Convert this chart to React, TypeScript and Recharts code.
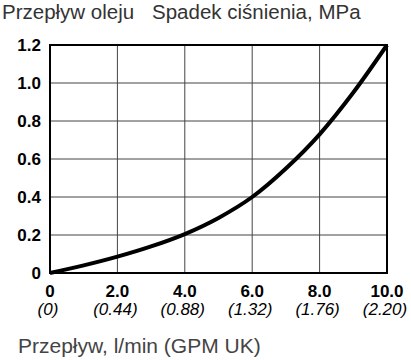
import { LineChart, Line, XAxis, YAxis, CartesianGrid, ReferenceArea } from 'recharts';

// flow in l/min and pressure drop in MPa
const flowLpm = [0, 1, 2, 3, 4, 5, 6, 7, 8, 9, 10];
const pressureMpa = [0, 0.04, 0.086, 0.14, 0.205, 0.29, 0.4, 0.55, 0.73, 0.95, 1.2];

const xTicks = [0, 2, 4, 6, 8, 10];
const xTickLabels = ['0', '2.0', '4.0', '6.0', '8.0', '10.0'];
const gpmLabels = ['(0)', '(0.44)', '(0.88)', '(1.32)', '(1.76)', '(2.20)'];
const yTicks = [0, 0.2, 0.4, 0.6, 0.8, 1.0, 1.2];

const data = flowLpm.map((flow, i) => ({ flow, pressure: pressureMpa[i] }));

const FONT = '"Liberation Sans", Arial, sans-serif';

const FlowTick = (props: any) => {
  const { x, y, payload } = props;
  const idx = xTicks.indexOf(payload.value);
  return (
    <g>
      <text x={x} y={y + 21.5} textAnchor="middle" fontFamily={FONT} fontSize={17} fontWeight="bold" fill="#000">
        {xTickLabels[idx]}
      </text>
      <text x={x - 2} y={y + 39.5} textAnchor="middle" fontFamily={FONT} fontSize={17} fontStyle="italic" fill="#000">
        {gpmLabels[idx]}
      </text>
    </g>
  );
};

export default function App() {
  return (
    <div style={{ position: 'absolute', left: 0, top: 0, width: 411, height: 360, background: '#fff' }}>
      <LineChart
        width={411}
        height={360}
        data={data}
        margin={{ top: 45, right: 24, left: 0, bottom: 37 }}
      >
        <CartesianGrid stroke="#444" strokeWidth={1} />
        <XAxis
          dataKey="flow"
          type="number"
          domain={[0, 10]}
          ticks={xTicks}
          height={50}
          tickLine={false}
          tickSize={0}
          axisLine={false}
          tick={<FlowTick />}
        />
        <YAxis
          type="number"
          domain={[0, 1.2]}
          ticks={yTicks}
          width={50}
          tickLine={false}
          tickSize={0}
          tickMargin={9}
          axisLine={false}
          tickFormatter={(v: number) => (v === 0 ? '0' : v.toFixed(1))}
          tick={{ fill: '#000', fontSize: 17, fontWeight: 'bold', fontFamily: FONT }}
        />
        <ReferenceArea x1={0} x2={10} y1={0} y2={1.2} fill="none" fillOpacity={0} stroke="#000" strokeWidth={2} />
        <Line
          dataKey="pressure"
          type="monotone"
          stroke="#000"
          strokeWidth={4}
          dot={false}
          isAnimationActive={false}
        />
      </LineChart>
      <svg width={411} height={360} style={{ position: 'absolute', left: 0, top: 0, pointerEvents: 'none' }}>
        <text x={2} y={19} fontFamily={FONT} fontSize={20.5} fill="#333">Przepływ oleju</text>
        <text x={152} y={19} fontFamily={FONT} fontSize={20.5} fill="#333">Spadek ciśnienia, MPa</text>
        <text x={18} y={353} fontFamily={FONT} fontSize={21} fill="#444">Przepływ, l/min (GPM UK)</text>
      </svg>
    </div>
  );
}
